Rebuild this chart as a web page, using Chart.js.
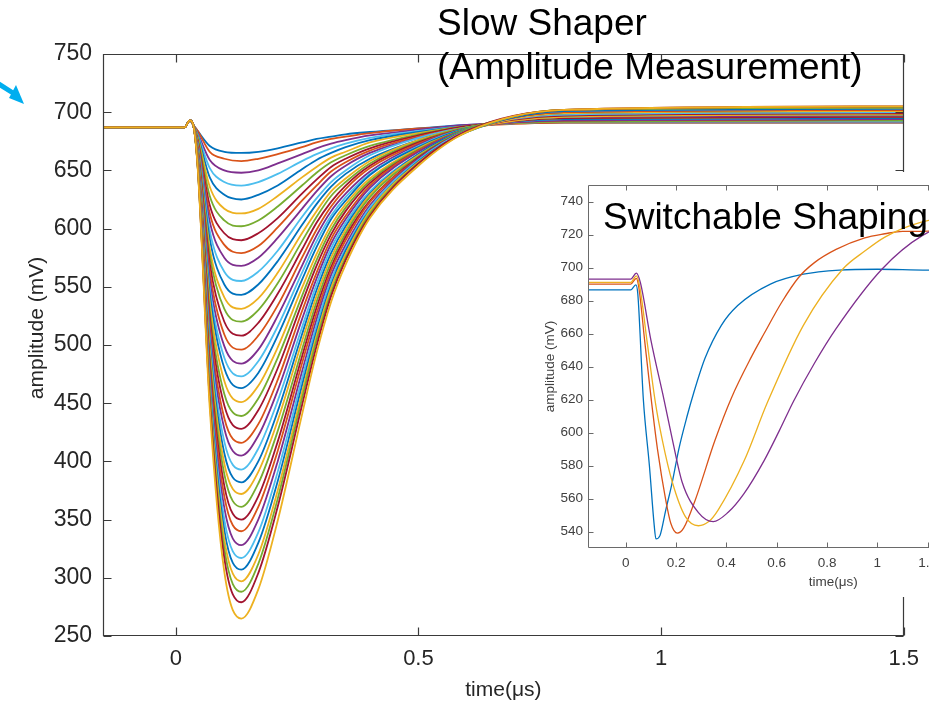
<!DOCTYPE html>
<html><head><meta charset="utf-8">
<script src="https://cdn.jsdelivr.net/npm/chart.js@4.4.1/dist/chart.umd.min.js"></script>
<style>
html,body{margin:0;padding:0;background:#fff;}
#wrap{position:relative;width:929px;height:707px;overflow:hidden;background:#fff;}
#main{position:absolute;left:0;top:0;}
#insetBox{position:absolute;left:535px;top:172px;width:560px;height:425px;background:#fff;}
#inset{position:absolute;left:0;top:0;}
.lbl{position:absolute;font-family:"Liberation Sans",Arial,Helvetica,sans-serif;color:#000;white-space:nowrap;font-size:37px;line-height:44px;}
#t1{left:437px;top:1px;}
#t2{left:603px;top:195px;}
#arrow{position:absolute;left:0;top:70px;}
</style></head>
<body>
<div id="wrap">
<canvas id="main" width="929" height="707"></canvas>
<svg id="arrow" width="40" height="50" viewBox="0 70 40 50">
  <line x1="-6" y1="81" x2="13" y2="93" stroke="#00AEEF" stroke-width="5"/>
  <polygon points="24,104 9,98 16,85" fill="#00AEEF"/>
</svg>
<div id="insetBox"><canvas id="inset" width="560" height="425"></canvas></div>
<div class="lbl" id="t1">Slow Shaper<br>(Amplitude Measurement)</div>
<div class="lbl" id="t2">Switchable Shaping</div>
</div>
<script>
// ---------- main chart data (slow shaper, amplitude scan) ----------
const mainXTicks = [0, 0.5, 1, 1.5];
const mainYTicks = [250, 300, 350, 400, 450, 500, 550, 600, 650, 700, 750];
const mainTimes = [-0.15, 0.018, 0.029, 0.036, 0.045, 0.07, 0.1, 0.135, 0.17, 0.21, 0.26, 0.29, 0.32, 0.35, 0.4, 0.5, 0.6, 0.8, 1.5];
const mainLead = [687, 687, 693, 689];
const mainCurves = [
  [684,671,666,665,666,669,674,677,679,681,683,686,689,691,691],
  [684,666,660,658,660,664,670,674,677,679,682,686,688,691,691],
  [682,659,650,648,650,656,664,669,673,676,680,685,689,692,692],
  [681,652,640,637,640,647,658,664,669,673,678,684,688,692,692],
  [680,644,629,625,629,637,651,659,665,670,676,683,688,692,693],
  [679,636,617,613,617,628,644,653,661,666,674,682,688,692,693],
  [678,628,607,602,607,619,637,648,657,663,671,681,688,692,693],
  [676,620,596,590,596,609,630,642,653,660,669,680,688,693,694],
  [675,613,586,579,585,601,624,637,649,657,667,679,687,693,694],
  [674,606,575,568,575,592,617,632,645,654,665,678,687,693,694],
  [673,598,563,555,563,581,610,626,640,650,663,678,687,694,695],
  [672,591,552,543,552,572,603,621,636,647,660,676,687,694,695],
  [671,583,541,531,540,562,596,615,632,643,658,676,687,695,696],
  [670,577,531,520,530,553,589,610,628,640,656,675,687,695,696],
  [669,570,520,508,519,544,582,605,623,637,654,674,686,695,696],
  [668,563,509,496,508,534,575,599,619,634,652,673,686,696,697],
  [667,556,499,484,496,525,568,594,615,630,649,672,686,696,697],
  [666,549,489,473,486,516,562,589,611,627,647,671,686,696,698],
  [665,544,480,463,476,508,556,584,608,624,646,670,686,696,698],
  [664,537,469,451,465,498,549,578,603,621,643,669,685,696,698],
  [663,530,458,439,454,489,542,573,599,618,641,668,686,697,699],
  [662,524,448,428,444,480,536,568,595,615,639,667,685,697,699],
  [661,518,437,416,432,470,529,562,591,611,637,667,685,698,700],
  [661,512,428,405,422,461,522,557,587,608,635,666,685,698,700],
  [660,506,417,393,411,452,515,552,583,605,632,664,685,698,700],
  [659,501,407,382,400,443,509,547,579,602,630,664,685,699,701],
  [659,496,398,372,391,435,503,542,575,599,629,663,684,699,701],
  [658,490,389,361,381,426,496,537,571,596,627,662,685,700,702],
  [657,485,379,350,370,417,490,532,567,593,624,661,684,700,702],
  [657,480,370,340,361,409,484,527,564,590,623,660,684,700,702],
  [656,474,360,328,350,400,477,522,560,586,620,660,684,701,703],
  [656,469,350,317,339,391,471,517,556,583,618,659,684,701,703],
  [655,465,341,307,330,383,465,512,552,581,616,658,683,701,703],
  [655,460,333,297,320,375,459,508,549,578,615,657,683,702,704],
  [654,456,325,288,312,368,454,504,545,575,613,656,683,702,704],
  [654,452,317,279,304,361,448,499,542,573,611,656,684,702,705],
  [653,446,305,265,290,349,440,493,537,569,609,654,683,702,705]
];
const mainColors = ['blue','orange','purple','lightblue','blue','yellow','green','darkred','orange','purple','lightblue','blue','yellow','green','darkred','orange','purple','lightblue','blue','yellow','green','darkred','orange','purple','lightblue','blue','yellow','green','darkred','orange','purple','lightblue','blue','yellow','green','darkred','yellow'];

// ---------- inset data (switchable shaping) ----------
const insetXTicks = [0, 0.2, 0.4, 0.6, 0.8, 1, 1.2, 1.4, 1.6, 1.8];
const insetYTicks = [540, 560, 580, 600, 620, 640, 660, 680, 700, 720, 740];
const insetBlueT = [-0.15, 0.02, 0.04, 0.048, 0.07, 0.094, 0.113, 0.12, 0.136, 0.159, 0.185, 0.211, 0.244, 0.27, 0.315, 0.38, 0.445, 0.575, 0.706, 0.85, 1.0, 1.2, 1.5, 1.8];
const insetBlueV = [686.5, 686.5, 689.5, 684, 620, 580, 544, 535.5, 537.5, 553, 570, 590, 610, 624, 645, 665, 677, 690, 696, 698.5, 699, 698.5, 698.5, 698.5];
const insetOrangeT = [-0.15, 0.02, 0.042, 0.052, 0.075, 0.103, 0.127, 0.159, 0.179, 0.205, 0.23, 0.276, 0.354, 0.42, 0.5, 0.55, 0.62, 0.687, 0.75, 0.836, 0.95, 1.03, 1.1, 1.18, 1.4, 1.8];
const insetOrangeV = [690, 690, 693.5, 688, 656, 618, 589, 559, 545, 539, 542, 559, 595, 621, 646, 660, 679, 694, 703, 711, 718, 720.5, 722, 722, 723, 723];
const insetYellowT = [-0.15, 0.02, 0.042, 0.055, 0.085, 0.118, 0.146, 0.185, 0.237, 0.289, 0.33, 0.367, 0.471, 0.5625, 0.706, 0.862, 0.95, 1.03, 1.175, 1.4, 1.8];
const insetYellowV = [691, 691, 695, 689, 655, 618, 595, 570, 549, 543.5, 546, 553, 583, 618, 665, 699, 710, 718.5, 727.5, 733, 735];
const insetPurpleT = [-0.15, 0.02, 0.042, 0.058, 0.1, 0.152, 0.185, 0.224, 0.289, 0.348, 0.406, 0.47, 0.55, 0.61, 0.667, 0.75, 0.836, 1.018, 1.18, 1.4, 1.8];
const insetPurpleV = [693, 693, 696.6, 691, 656, 620, 596, 570, 551.5, 546, 551.5, 563, 583, 601, 619, 642, 663, 699, 719.5, 732, 738];

const PAL = {blue:'#0072BD', orange:'#D95319', yellow:'#EDB120', purple:'#7E2F8E', green:'#77AC30', lightblue:'#4DBEEE', darkred:'#A2142F'};
const FONT = '"Liberation Sans", Arial, Helvetica, sans-serif';

function makeBox(id, color, width, len) {
  return {
    id: id,
    afterDatasetsDraw(chart) {
      const ctx = chart.ctx, a = chart.chartArea, x = chart.scales.x, y = chart.scales.y;
      const L = Math.round(a.left) + 0.5, R = Math.round(a.right) - 0.5, T = Math.round(a.top) + 0.5, B = Math.round(a.bottom) - 0.5;
      ctx.save();
      ctx.strokeStyle = color; ctx.lineWidth = width;
      ctx.beginPath();
      ctx.rect(L, T, R - L, B - T);
      x.ticks.forEach(t => {
        const p = Math.round(x.getPixelForValue(t.value)) + 0.5;
        ctx.moveTo(p, B); ctx.lineTo(p, B - len);
        ctx.moveTo(p, T); ctx.lineTo(p, T + len);
      });
      y.ticks.forEach(t => {
        const p = Math.round(y.getPixelForValue(t.value)) + 0.5;
        ctx.moveTo(L, p); ctx.lineTo(L + len, p);
        ctx.moveTo(R, p); ctx.lineTo(R - len, p);
      });
      ctx.stroke();
      ctx.restore();
    }
  };
}

// y-axis title drawn at a fixed spot (the reference label sits above the axis centre)
function makeYTitle(text, cx, cy, size, color) {
  return {
    id: 'yTitle',
    afterDraw(chart) {
      const ctx = chart.ctx;
      ctx.save();
      ctx.translate(cx, cy);
      ctx.rotate(-Math.PI / 2);
      ctx.font = size + 'px ' + FONT;
      ctx.fillStyle = color;
      ctx.textAlign = 'center';
      ctx.textBaseline = 'middle';
      ctx.fillText(text, 0, 0);
      ctx.restore();
    }
  };
}

function pts(ts, vs) { return vs.map((v, k) => ({x: ts[k], y: v})); }

function axis(min, max, tickList, fixSize, horizontal, fontSize, tickPad, titleText, titlePad, color, titleSize) {
  return {
    type: 'linear', min: min, max: max,
    afterBuildTicks: s => { s.ticks = tickList.map(v => ({value: v})); },
    afterFit: s => { if (horizontal) s.height = fixSize; else s.width = fixSize; },
    grid: {display: false, drawTicks: false},
    border: {display: false},
    ticks: {padding: tickPad, color: color, font: {family: FONT, size: fontSize}, callback: v => String(v), maxRotation: 0, autoSkip: false},
    title: {display: !!titleText, text: titleText || '', color: color, font: {family: FONT, size: titleSize || fontSize}, padding: titlePad}
  };
}

new Chart(document.getElementById('main'), {
  type: 'line',
  data: {datasets: mainCurves.map((c, i) => ({
    data: pts(mainTimes, mainLead.concat(c)),
    borderColor: PAL[mainColors[i]], borderWidth: 1.8, pointRadius: 0, fill: false,
    cubicInterpolationMode: 'monotone', order: mainCurves.length - i
  }))},
  options: {
    responsive: false, animation: false, devicePixelRatio: 1,
    layout: {padding: {left: 0, right: 21, top: 54, bottom: 0}},
    plugins: {legend: {display: false}, tooltip: {enabled: false}},
    scales: {
      x: axis(-0.15, 1.5, mainXTicks, 71, true, 22, 10, 'time(μs)', {top: 0, bottom: 4}, '#262626', 21),
      y: axis(250, 750, mainYTicks, 103, false, 23, 11, '', {top: 0, bottom: 0}, '#262626')
    }
  },
  plugins: [makeBox('mainBox', '#3a3a3a', 1.2, 8), makeYTitle('amplitude (mV)', 37, 328, 21, '#262626')]
});

const insetSeries = [[insetBlueT, insetBlueV, 'blue'], [insetOrangeT, insetOrangeV, 'orange'], [insetYellowT, insetYellowV, 'yellow'], [insetPurpleT, insetPurpleV, 'purple']];
new Chart(document.getElementById('inset'), {
  type: 'line',
  data: {datasets: insetSeries.map((s, i) => ({
    data: pts(s[0], s[1]),
    borderColor: PAL[s[2]], borderWidth: 1.3, pointRadius: 0, fill: false,
    cubicInterpolationMode: 'monotone', order: 4 - i
  }))},
  options: {
    responsive: false, animation: false, devicePixelRatio: 1,
    layout: {padding: {left: 0, right: 9, top: 13, bottom: 0}},
    plugins: {legend: {display: false}, tooltip: {enabled: false}},
    scales: {
      x: axis(-0.15, 1.8, insetXTicks, 49, true, 13.5, 7, 'time(μs)', {top: 0, bottom: 7}, '#404040'),
      y: axis(530, 750, insetYTicks, 53, false, 13.5, 5, 'amplitude (mV)', {top: 7, bottom: 0}, '#404040')
    }
  },
  plugins: [makeBox('insetBox', '#6a6a6a', 1, 5)]
});
</script>
</body></html>
